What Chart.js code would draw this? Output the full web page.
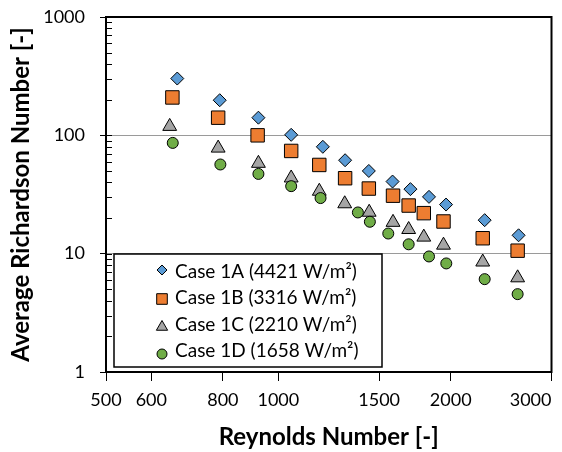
<!DOCTYPE html>
<html>
<head>
<meta charset="utf-8">
<script src="https://cdn.jsdelivr.net/npm/chart.js@4.4.0/dist/chart.umd.min.js"></script>
<style>
    html, body { margin: 0; padding: 0; background: #fff; }
    #wrap { width: 562px; height: 452px; }
</style>
</head>
<body>
<div id="wrap"><canvas id="riChart" width="562" height="452"></canvas></div>
<script>
// Richardson vs Reynolds, four heat flux cases

const caseLabels = [
    'Case 1A (4421 W/m²)',
    'Case 1B (3316 W/m²)',
    'Case 1C (2210 W/m²)',
    'Case 1D (1658 W/m²)'
];

const re1A = [666, 790, 923, 1053, 1196, 1308, 1439, 1583, 1701, 1833, 1963, 2293, 2628];
const ri1A = [302, 198, 141, 101, 80, 61.6, 50, 40.7, 35.1, 30.2, 26.0, 19.2, 14.3];

const re1B = [653, 785, 920, 1053, 1179, 1308, 1439, 1586, 1689, 1795, 1943, 2275, 2618];
const ri1B = [209, 141, 100, 73.8, 56.2, 43.4, 35.5, 30.9, 25.5, 22.0, 18.7, 13.5, 10.6];

const re1C = [646, 785, 923, 1053, 1179, 1306, 1441, 1586, 1689, 1795, 1943, 2275, 2618];
const ri1C = [119, 78, 58, 43.6, 33.7, 26.4, 22.4, 18.4, 16.0, 13.8, 11.8, 8.5, 6.25];

const re1D = [654, 792, 923, 1053, 1185, 1377, 1445, 1556, 1689, 1833, 1965, 2293, 2618];
const ri1D = [86.3, 56.7, 47.2, 37.2, 29.5, 22.3, 18.6, 14.8, 12.0, 9.47, 8.27, 6.09, 4.55];

const xTickValues = [500, 600, 800, 1000, 1500, 2000, 3000];
const yTickValues = [1, 10, 100, 1000];

const FONT = 'Lato, "Open Sans", sans-serif';

// marker look per case
const markerStyles = [
    { pointStyle: 'rectRot', radius: 6.5, legendRadius: 5, color: '#5B9BD5' },
    { pointStyle: 'rect', radius: 9.5, legendRadius: 7.5, color: '#ED7D31' },
    { pointStyle: 'triangle', radius: 8, legendRadius: 6.5, color: '#A5A5A5' },
    { pointStyle: 'circle', radius: 5.5, legendRadius: 5, color: '#70AD47' }
];

function toPoints(re, ri) {
    return re.map((x, i) => ({ x: x, y: ri[i] }));
}

const seriesRe = [re1A, re1B, re1C, re1D];
const seriesRi = [ri1A, ri1B, ri1C, ri1D];

const datasets = caseLabels.map((label, i) => ({
    label: label,
    data: toPoints(seriesRe[i], seriesRi[i]),
    pointStyle: markerStyles[i].pointStyle,
    pointRadius: markerStyles[i].radius,
    pointHoverRadius: markerStyles[i].radius,
    backgroundColor: markerStyles[i].color,
    borderColor: '#000',
    borderWidth: 1,
    order: 3 - i
}));

// Plot frame, inner minor ticks and the boxed legend
const framePlugin = {
    id: 'frame',
    beforeDraw(chart) {
        // keep the last x label inside the plot edge
        const items = chart.scales.x.getLabelItems();
        const last = items[items.length - 1];
        if (last) last.options.textAlign = 'right';
    },
    afterDraw(chart) {
        const { ctx, chartArea: a, scales: { y } } = chart;
        ctx.save();

        ctx.strokeStyle = '#000';
        ctx.lineWidth = 1;
        ctx.beginPath();
        for (let p = 0; p < 3; p++) {
            for (let d = 1; d <= 9; d++) {
                const py = Math.round(y.getPixelForValue(d * Math.pow(10, p))) + 0.5;
                ctx.moveTo(a.left, py);
                ctx.lineTo(a.left + 6, py);
            }
        }
        ctx.stroke();

        ctx.lineWidth = 2;
        ctx.strokeRect(a.left, a.top, a.right - a.left, a.bottom - a.top);

        // legend
        const box = { x: 114, y: 254, w: 268, h: 113 };
        ctx.fillStyle = '#fff';
        ctx.fillRect(box.x, box.y, box.w, box.h);
        ctx.lineWidth = 1.5;
        ctx.strokeRect(box.x, box.y, box.w, box.h);

        const rowY = [271.5, 298, 324.5, 351];
        const markerY = [270, 299, 327, 354];
        caseLabels.forEach((label, i) => {
            const m = markerStyles[i];
            ctx.fillStyle = m.color;
            ctx.strokeStyle = '#000';
            ctx.lineWidth = 1;
            Chart.helpers.drawPoint(ctx, {
                pointStyle: m.pointStyle,
                radius: m.legendRadius,
                rotation: 0,
                borderWidth: 1
            }, 162, markerY[i]);

            ctx.fillStyle = '#000';
            ctx.font = '19px ' + FONT;
            ctx.textAlign = 'left';
            ctx.textBaseline = 'middle';
            ctx.fillText(label, 175, rowY[i]);
        });

        ctx.restore();
    }
};

function initChart() {
    Chart.defaults.color = '#000';
    const ctx = document.getElementById('riChart');

    new Chart(ctx, {
        type: 'scatter',
        data: { datasets: datasets },
        options: {
            responsive: false,
            animation: false,
            layout: {
                padding: { top: 17, right: 5, left: 0, bottom: 0 }
            },
            plugins: {
                legend: { display: false },
                tooltip: { enabled: false }
            },
            scales: {
                x: {
                    type: 'logarithmic',
                    min: 500,
                    max: 3000,
                    afterBuildTicks: function(scale) {
                        scale.ticks = xTickValues.map(v => ({ value: v }));
                    },
                    afterFit: function(scale) {
                        scale.height = 80;
                        scale.paddingLeft = 0;
                        scale.paddingRight = 0;
                    },
                    border: { display: true, color: '#000', width: 2 },
                    grid: {
                        drawOnChartArea: false,
                        drawTicks: true,
                        tickLength: 9,
                        tickColor: '#000',
                        lineWidth: 1
                    },
                    ticks: {
                        autoSkip: false,
                        maxRotation: 0,
                        padding: 8,
                        font: { family: FONT, size: 18 },
                        callback: function(value) {
                            return String(value);
                        }
                    },
                    title: {
                        display: true,
                        text: 'Reynolds Number [-]',
                        font: { family: FONT, size: 24, weight: 'bold' },
                        padding: { top: 0, bottom: 0 }
                    }
                },
                y: {
                    type: 'logarithmic',
                    min: 1,
                    max: 1000,
                    afterBuildTicks: function(scale) {
                        scale.ticks = yTickValues.map(v => ({ value: v }));
                    },
                    afterFit: function(scale) {
                        scale.width = 106;
                        scale.paddingTop = 0;
                        scale.paddingBottom = 0;
                    },
                    border: { display: true, color: '#000', width: 2 },
                    grid: {
                        drawTicks: true,
                        tickLength: 6,
                        tickColor: '#000',
                        lineWidth: 1,
                        color: function(context) {
                            const v = context.tick ? context.tick.value : null;
                            return (v === 10 || v === 100) ? '#9a9a9a' : 'rgba(0,0,0,0)';
                        }
                    },
                    ticks: {
                        padding: 15,
                        font: { family: FONT, size: 18 },
                        callback: function(value) {
                            return String(value);
                        }
                    },
                    title: {
                        display: true,
                        text: 'Average Richardson Number [-]',
                        font: { family: FONT, size: 24, weight: 'bold' },
                        padding: { top: 7, bottom: 0 }
                    }
                }
            }
        },
        plugins: [framePlugin]
    });
}

document.addEventListener('DOMContentLoaded', initChart);
</script>
</body>
</html>
